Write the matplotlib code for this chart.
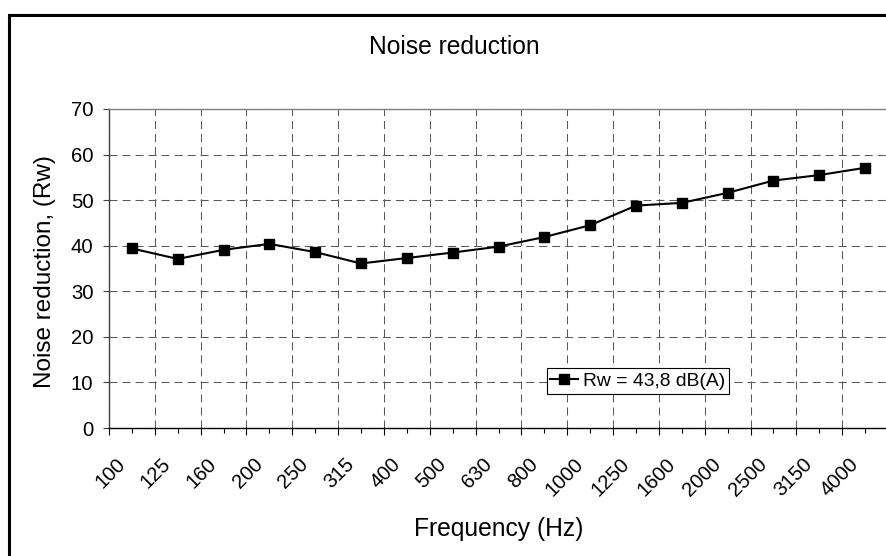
import numpy as np
import matplotlib
matplotlib.use('Agg')
import matplotlib.pyplot as plt
import matplotlib.transforms as mtransforms
from matplotlib.patches import Rectangle
from matplotlib.ticker import FixedLocator

#-----------Datos-------------------#
frecuencias = ['100', '125', '160', '200', '250', '315', '400', '500', '630',
               '800', '1000', '1250', '1600', '2000', '2500', '3150', '4000']
reduccion = [39.4, 37.1, 39.1, 40.4, 38.6, 36.1, 37.3, 38.5, 39.8,
             41.9, 44.5, 48.8, 49.4, 51.6, 54.3, 55.5, 57.1]
etiqueta_serie = 'Rw = 43,8 dB(A)'

plt.rcParams['font.family'] = ['Liberation Sans', 'DejaVu Sans']

W, H = 887, 556
fig = plt.figure(figsize=(W / 100, H / 100), dpi=100)
fig.patch.set_facecolor('white')

# area del grafico (en pixeles de la imagen)
x0, x1 = 109, 888
y_top, y_bot = 109, 428
ax = fig.add_axes([x0 / W, (H - y_bot) / H, (x1 - x0) / W, (y_bot - y_top) / H])

x = np.arange(len(frecuencias))
ax.plot(x, reduccion, color='black', lw=1.5, marker='s', markersize=6.5,
        label=etiqueta_serie, zorder=3)

ax.set_xlim(-0.5, len(frecuencias) - 0.5)
ax.set_ylim(0, 70)
ax.set_yticks(np.arange(0, 71, 10))

# etiquetas en el centro de cada categoria, rejilla en los bordes
ax.set_xticks(x)
ax.set_xticklabels(frecuencias, rotation=45, ha='right', va='center',
                   rotation_mode='anchor')
ax.xaxis.set_minor_locator(FixedLocator(np.arange(-0.5, len(frecuencias), 1.0)))

ax.tick_params(axis='x', which='major', length=3.6, width=0.8, color='black',
               pad=20.6, labelsize=14.6)
ax.tick_params(axis='x', which='minor', length=5, width=0.8, color='black')
ax.tick_params(axis='y', which='major', length=4.3, width=0.8, color='#404040',
               pad=7.0, labelsize=14.6)

# rejilla discontinua gris
estilo_rejilla = dict(color='#595959', lw=0.75, linestyle=(0, (7.7, 4.8)), zorder=0)
ax.grid(True, axis='y', which='major', **estilo_rejilla)
ax.grid(True, axis='x', which='minor', **estilo_rejilla)
ax.set_axisbelow(True)

ax.spines['right'].set_visible(False)
ax.spines['top'].set_color('#808080')
ax.spines['top'].set_linewidth(1.0)
ax.spines['left'].set_color('#404040')
ax.spines['left'].set_linewidth(1.0)
ax.spines['bottom'].set_color('black')
ax.spines['bottom'].set_linewidth(1.0)

# leyenda
leg = ax.legend(loc='center', bbox_to_anchor=(638 / W, (H - 381) / H),
                bbox_transform=fig.transFigure, fontsize=13.9, numpoints=1,
                handlelength=1.45, handletextpad=0.25, borderpad=0.2,
                borderaxespad=0, fancybox=False, framealpha=1, shadow=False)
leg.get_frame().set_edgecolor('black')
leg.get_frame().set_linewidth(0.8)

# titulo y ejes
fig.text(454.5 / W, (H - 54) / H, 'Noise reduction', fontsize=17.7,
         ha='center', va='baseline')
fig.text(498.5 / W, (H - 535.7) / H, 'Frequency (Hz)', fontsize=17.7,
         ha='center', va='baseline')
fig.text(51.5 / W, (H - 271.5) / H, 'Noise reduction, (Rw)', fontsize=17.5,
         rotation=90, rotation_mode='anchor', ha='center', va='baseline')

# marco exterior del grafico
fig.patches.append(Rectangle((9.3 / W, -0.05), 2.0, (H - 14.7) / H + 0.05,
                             transform=fig.transFigure, fill=False,
                             edgecolor='black', lw=2.2, zorder=5))

# desplazar un poco a la izquierda las etiquetas giradas (como en Excel)
desplazamiento = mtransforms.ScaledTranslation(-0.097, 0, fig.dpi_scale_trans)
for etiqueta in ax.get_xticklabels():
    etiqueta.set_transform(etiqueta.get_transform() + desplazamiento)

fig.savefig('out.png', dpi=100)
